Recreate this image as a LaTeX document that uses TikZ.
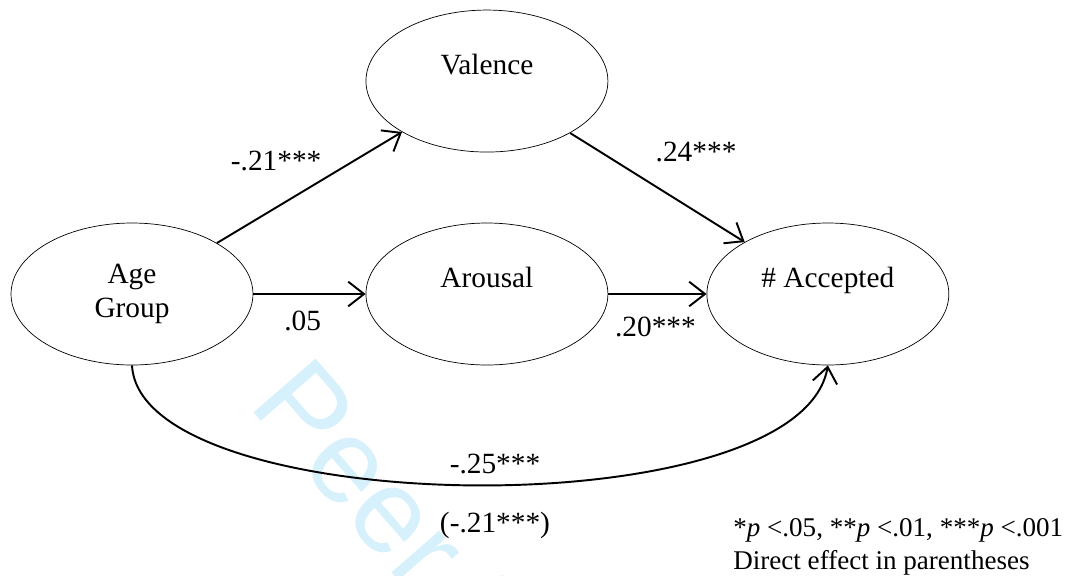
\documentclass[tikz,border=0pt]{standalone}
\usepackage{fontspec}
\setmainfont{Liberation Serif}
\newfontfamily\wmfont{Liberation Sans}
\usetikzlibrary{shapes.geometric,arrows.meta,positioning}
\definecolor{wmblue}{RGB}{214,240,252}

\begin{document}
\begin{tikzpicture}[x=0.02cm, y=-0.02cm, node distance=7.1cm,
  font=\fontsize{16.7}{19.5}\selectfont,
  oval/.style={draw, ellipse, line width=0.4pt, minimum width=4.84cm, minimum height=2.84cm, inner sep=0pt},
  raised/.style={text height=11.5pt, text depth=19pt},
  effect/.style={line width=1.1pt, -{Straight Barb[length=9pt,width=14pt,line width=1.1pt]}},
  coef/.style={inner sep=0pt}]
\useasboundingbox (0,0) rectangle (1070,575);
% watermark
\node (wm) [anchor=base west, rotate=-49, text=wmblue, font=\wmfont\fontsize{68}{74}\selectfont] at (243,401) {Peer Review};
% the four variables
\node (age)[oval, align=center] at (132,294) {Age\\Group};
\node (aro)[oval, raised] [right of = age] {Arousal};
\node (val)[oval, raised] [above of = aro, node distance=4.26cm] {Valence};
\node (acc)[oval, raised] [right of = aro, node distance=6.82cm] {\# Accepted};
% paths
\draw[effect] (age) -- node (lageval)[coef, pos=0.32, above=0.71cm] {-.21***} (val);
\draw[effect] (age) -- node (lagearo)[coef, pos=0.44, below=0.33cm] {.05} (aro);
\draw[effect] (val) -- node (lvalacc)[coef, pos=0.17, right=1.1cm] {.24***} (acc);
\draw[effect] (aro) -- node (laroacc)[coef, pos=0.48, below=0.44cm] {.20***} (acc);
\draw[effect] (age.south) .. controls (140,520) and (800,530) .. (acc.south)
  node (ltotal)[coef, pos=0.5, above=0.2cm, xshift=0.45cm] {-.25***}
  node (ldirect)[coef, pos=0.5, below=0.52cm, xshift=0.45cm] {(-.21***)};
% note
\node (note)[coef, anchor=north west, align=left, font=\fontsize{15.4}{18.8}\selectfont] at (733,518)
  {*\textit{p} <.05, **\textit{p} <.01, ***\textit{p} <.001\\Direct effect in parentheses};
\end{tikzpicture}
\end{document}
